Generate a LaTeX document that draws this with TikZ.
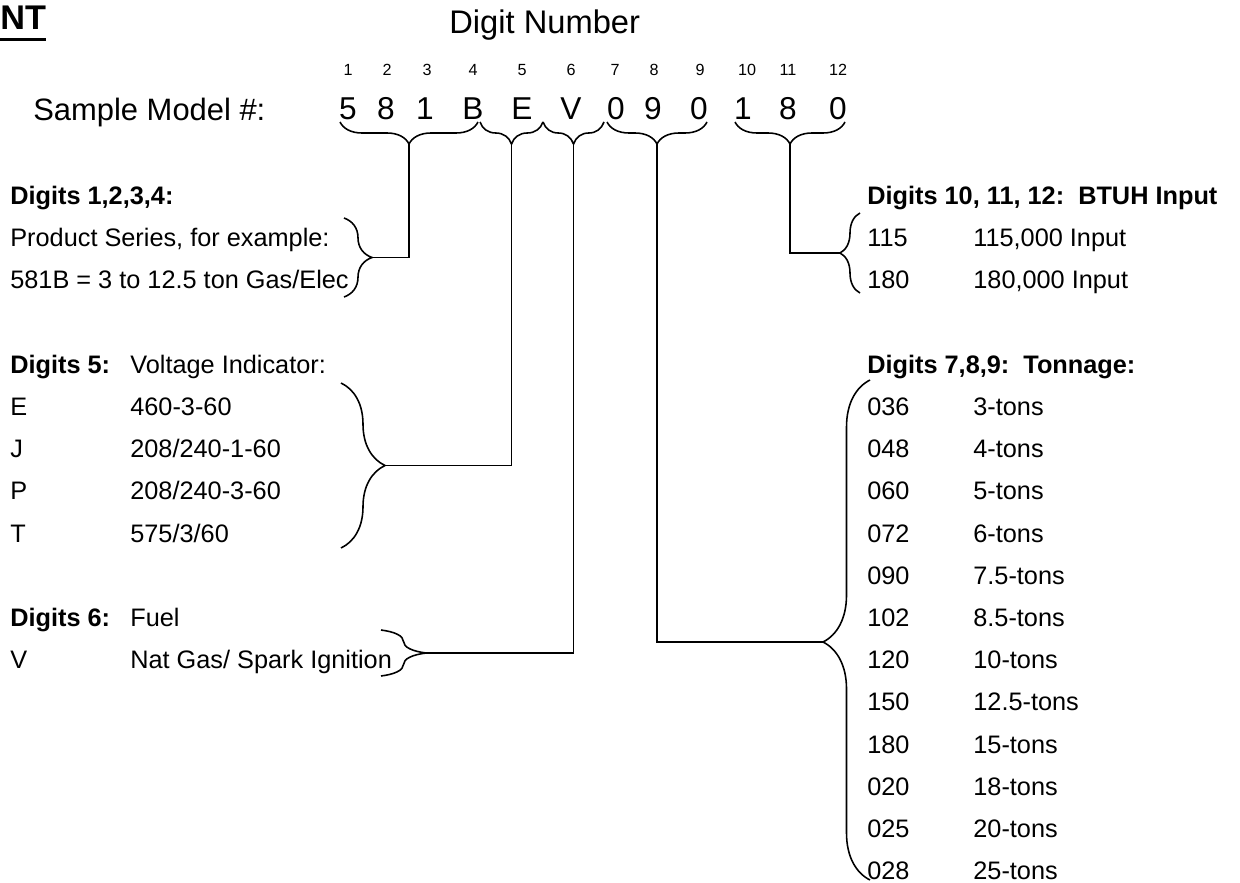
\documentclass[tikz,border=0pt]{standalone}
\usepackage{fontspec}
\setmainfont{Liberation Sans}
\usetikzlibrary{decorations.pathreplacing}

\begin{document}
\begin{tikzpicture}[
        x=0.02cm, y=-0.02cm,
        txt/.style={anchor=base west, inner sep=0pt, font=\fontsize{14.4}{17}\selectfont},
        hd/.style={txt, font=\fontsize{14.4}{17}\selectfont\bfseries},
        big/.style={anchor=base, inner sep=0pt, font=\fontsize{18}{21}\selectfont},
        posnum/.style={anchor=base, inner sep=0pt, font=\fontsize{9.2}{11}\selectfont},
        brc/.style={decorate, decoration={brace, amplitude=#1}, line width=0.9pt},
        link/.style={line width=0.9pt}
    ]
    \useasboundingbox (0,0) rectangle (1240,882);

    % title line
    \node[anchor=base west, inner sep=0pt, font=\fontsize{19.5}{22}\selectfont\bfseries] (nt) at (0,30) {NT};
    \draw[line width=1.6pt] ([yshift=-5.5pt]nt.base west) -- ([yshift=-5.5pt]nt.base east);
    \node[big, anchor=base west, font=\fontsize{18.6}{22}\selectfont] (dnum) at (449,34) {Digit Number};
    \node[big, anchor=base west, font=\fontsize{17.6}{21}\selectfont] (smp) at (33,120) {Sample Model \#:};

    % digit positions and sample model
    \node[posnum] (n1) at (348,76) {1};   \node[big] (d1) at (348,119) {5};
    \node[posnum] (n2) at (387,76) {2};   \node[big] (d2) at (386,119) {8};
    \node[posnum] (n3) at (427,76) {3};   \node[big] (d3) at (425,119) {1};
    \node[posnum] (n4) at (473,76) {4};   \node[big] (d4) at (473,119) {B};
    \node[posnum] (n5) at (522,76) {5};   \node[big] (d5) at (522,119) {E};
    \node[posnum] (n6) at (571,76) {6};   \node[big] (d6) at (571,119) {V};
    \node[posnum] (n7) at (615,76) {7};   \node[big] (d7) at (616,119) {0};
    \node[posnum] (n8) at (654,76) {8};   \node[big] (d8) at (653,119) {9};
    \node[posnum] (n9) at (700,76) {9};   \node[big] (d9) at (699,119) {0};
    \node[posnum] (n10) at (747,76) {10}; \node[big] (d10) at (743,119) {1};
    \node[posnum] (n11) at (788,76) {11}; \node[big] (d11) at (788,119) {8};
    \node[posnum] (n12) at (838,76) {12}; \node[big] (d12) at (838,119) {0};

    % braces under the model number
    \draw[brc=0.44cm] (478,122) -- (340,122);
    \draw[brc=0.44cm] (543,122) -- (480,122);
    \draw[brc=0.44cm] (604,122) -- (543,122);
    \draw[brc=0.44cm] (707,122) -- (607,122);
    \draw[brc=0.44cm] (845,122) -- (735,122);
    \coordinate (tipA) at (409,144);
    \coordinate (tipB) at (511.5,144);
    \coordinate (tipC) at (573.5,144);
    \coordinate (tipD) at (657,144);
    \coordinate (tipE) at (790,144);

    % digits 1-4
    \node[hd] (h14) at (10,204) {Digits 1,2,3,4:};
    \node[txt] (ps1) at (10,246) {Product Series, for example:};
    \node[txt] (ps2) at (10,288) {581B = 3 to 12.5 ton Gas/Elec};
    \draw[brc=0.56cm] (344,218) -- (344,297);
    \coordinate (tipPs) at (372,257.5);

    % digit 5
    \node[hd] (h5) at (10,373) {Digits 5:};  \node[txt] (h5t) at (130,373) {Voltage Indicator:};
    \node[txt] (vE) at (10,415) {E};         \node[txt] (vEt) at (130,415) {460-3-60};
    \node[txt] (vJ) at (10,457) {J};         \node[txt] (vJt) at (130,457) {208/240-1-60};
    \node[txt] (vP) at (10,499) {P};         \node[txt] (vPt) at (130,499) {208/240-3-60};
    \node[txt] (vT) at (10,542) {T};         \node[txt] (vTt) at (130,542) {575/3/60};
    \draw[brc=0.88cm] (341,383) -- (341,548);
    \coordinate (tipV) at (385,465.5);

    % digit 6
    \node[hd] (h6) at (10,626) {Digits 6:};  \node[txt] (h6t) at (130,626) {Fuel};
    \node[txt] (fV) at (10,668) {V};         \node[txt] (fVt) at (130,668) {Nat Gas/ Spark Ignition};
    \draw[brc=0.9cm] (381,630) -- (381,676);
    \coordinate (tipF) at (426,653);

    % digits 10-12
    \node[hd] (h10) at (867,204) {Digits 10, 11, 12:\ \ BTUH Input};
    \node[txt] (b115) at (867,246) {115};    \node[txt] (b115t) at (973,246) {115,000 Input};
    \node[txt] (b180) at (867,288) {180};    \node[txt] (b180t) at (973,288) {180,000 Input};
    \draw[brc=0.4cm] (860,293) -- (860,213);
    \coordinate (tipBt) at (840,253);

    % digits 7-9
    \node[hd] (h789) at (867,373) {Digits 7,8,9:\ \ Tonnage:};
    \node[txt] (t036) at (867,415) {036};    \node[txt] (t036t) at (973,415) {3-tons};
    \node[txt] (t048) at (867,457) {048};    \node[txt] (t048t) at (973,457) {4-tons};
    \node[txt] (t060) at (867,499) {060};    \node[txt] (t060t) at (973,499) {5-tons};
    \node[txt] (t072) at (867,542) {072};    \node[txt] (t072t) at (973,542) {6-tons};
    \node[txt] (t090) at (867,584) {090};    \node[txt] (t090t) at (973,584) {7.5-tons};
    \node[txt] (t102) at (867,626) {102};    \node[txt] (t102t) at (973,626) {8.5-tons};
    \node[txt] (t120) at (867,668) {120};    \node[txt] (t120t) at (973,668) {10-tons};
    \node[txt] (t150) at (867,710) {150};    \node[txt] (t150t) at (973,710) {12.5-tons};
    \node[txt] (t180) at (867,753) {180};    \node[txt] (t180t) at (973,753) {15-tons};
    \node[txt] (t020) at (867,795) {020};    \node[txt] (t020t) at (973,795) {18-tons};
    \node[txt] (t025) at (867,837) {025};    \node[txt] (t025t) at (973,837) {20-tons};
    \node[txt] (t028) at (867,879) {028};    \node[txt] (t028t) at (973,879) {25-tons};
    \draw[brc=0.94cm, decoration={aspect=0.476}] (870,880) -- (870,380);
    \coordinate (tipTn) at (823,642);

    % connectors
    \draw[link] (tipA) |- (tipPs);
    \draw[link] (tipB) |- (tipV);
    \draw[link] (tipC) |- (tipF);
    \draw[link] (tipD) |- (tipTn);
    \draw[link] (tipE) |- (tipBt);
\end{tikzpicture}
\end{document}
